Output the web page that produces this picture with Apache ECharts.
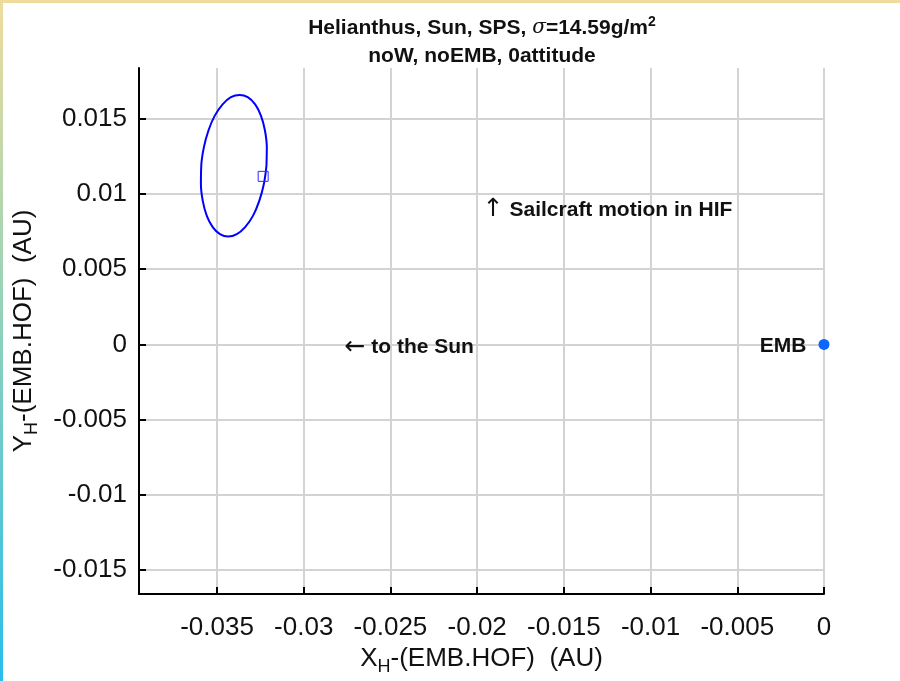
<!DOCTYPE html>
<html>
<head>
<meta charset="utf-8">
<script src="https://cdn.jsdelivr.net/npm/echarts@6/dist/echarts.min.js"></script>
<style>
html,body{margin:0;padding:0;background:#fff;}
#chart{width:900px;height:681px;}
</style>
</head>
<body>
<div id="chart"></div>
<script>
// ---- data ----
const xTicks = [-0.035, -0.03, -0.025, -0.02, -0.015, -0.01, -0.005, 0];
const yTicks = [-0.015, -0.01, -0.005, 0, 0.005, 0.01, 0.015];
const xRange = [-0.0395, 0];
const yRange = [-0.01661, 0.01839];

// trajectory (closed loop) in AU
const orbitX = [-0.03215, -0.03213, -0.03224, -0.03247, -0.03280, -0.03323, -0.03370, -0.03420,
                -0.03468, -0.03513, -0.03549, -0.03576, -0.03591, -0.03593, -0.03582, -0.03559,
                -0.03525, -0.03483, -0.03436, -0.03386, -0.03338, -0.03293, -0.03257, -0.03230, -0.03215];
const orbitY = [0.01189, 0.01311, 0.01425, 0.01522, 0.01597, 0.01645, 0.01660, 0.01645,
                0.01597, 0.01522, 0.01425, 0.01311, 0.01189, 0.01067, 0.00953, 0.00855,
                0.00780, 0.00733, 0.00717, 0.00733, 0.00780, 0.00855, 0.00953, 0.01067, 0.01189];

const startX = [-0.03234];
const startY = [0.01118];

const embX = [0];
const embY = [0];
const embLabel = ['EMB'];

const noteX = [-0.02765, -0.01968];
const noteY = [-0.0002, 0.00895];
const noteArrow = ['\u2190', '\u2191'];
const noteText = [' to the Sun', ' Sailcraft motion in HIF'];

const titleLine1 = 'Helianthus, Sun, SPS, ';
const titleSigma = '\u03c3';
const titleLine1b = '=14.59g/m';
const titleSup = '2';
const titleLine2 = 'noW, noEMB, 0attitude';

// ---- chart ----
const FONT = '"Liberation Sans", Arial, Helvetica, sans-serif';
const INK = '#111111';
const chart = echarts.init(document.getElementById('chart'), null, {renderer: 'canvas'});

const fmt = v => (v === 0 ? '0' : String(+v.toFixed(4)));

const option = {
  backgroundColor: '#ffffff',
  animation: false,
  grid: {left: 139, right: 76, top: 68, bottom: 86, containLabel: false},
  xAxis: {
    type: 'value',
    min: xRange[0], max: xRange[1],
    name: '{n|X}{sub|H}{n|-(EMB.HOF)  (AU)}',
    nameLocation: 'middle',
    nameGap: 48,
    nameTextStyle: {
      fontFamily: FONT, color: INK,
      rich: {
        n: {fontSize: 26, fontFamily: FONT, color: INK},
        sub: {fontSize: 18, fontFamily: FONT, color: INK, padding: [16, 0, 0, 0]}
      }
    },
    axisLine: {onZero: false, lineStyle: {color: '#000', width: 2}},
    axisTick: {inside: true, length: 7, lineStyle: {color: '#000', width: 2}, customValues: xTicks},
    axisLabel: {customValues: xTicks, formatter: fmt, fontSize: 26, fontFamily: FONT, color: INK, margin: 21},
    splitLine: {show: true, lineStyle: {color: '#d3d3d3', width: 2}}
  },
  yAxis: {
    type: 'value',
    min: yRange[0], max: yRange[1],
    name: '{n|Y}{sub|H}{n|-(EMB.HOF)  (AU)}',
    nameLocation: 'middle',
    nameGap: 98,
    nameTextStyle: {
      fontFamily: FONT, color: INK,
      rich: {
        n: {fontSize: 26, fontFamily: FONT, color: INK},
        sub: {fontSize: 18, fontFamily: FONT, color: INK, padding: [16, 0, 0, 0]}
      }
    },
    axisLine: {onZero: false, lineStyle: {color: '#000', width: 2}},
    axisTick: {inside: true, length: 7, lineStyle: {color: '#000', width: 2}, customValues: yTicks},
    axisLabel: {customValues: yTicks, formatter: fmt, fontSize: 26, fontFamily: FONT, color: INK, margin: 12},
    splitLine: {show: true, lineStyle: {color: '#d3d3d3', width: 2}}
  },
  graphic: [
    {type: 'rect', left: 0, top: 0, shape: {width: 900, height: 3}, style: {fill: '#efdc9c'}, z: 100},
    {type: 'rect', left: 0, top: 0, shape: {width: 3, height: 681},
      style: {fill: new echarts.graphic.LinearGradient(0, 0, 0, 1, [
        {offset: 0, color: '#efdc9c'}, {offset: 0.45, color: '#95d2b8'}, {offset: 1, color: '#28bdec'}])}, z: 100},
    {type: 'text', x: 482, y: 28, z: 50,
      style: {
        text: '{b|' + titleLine1 + '}{s|' + titleSigma + '}{b|' + titleLine1b + '}{sup|' + titleSup + '}',
        align: 'center', verticalAlign: 'middle',
        rich: {
          b: {fontSize: 21, fontWeight: 'bold', fontFamily: FONT, fill: INK, color: INK},
          s: {fontSize: 20, fontStyle: 'italic', fontFamily: '"DejaVu Serif", serif', fill: INK, color: INK},
          sup: {fontSize: 14, fontWeight: 'bold', fontFamily: FONT, fill: INK, color: INK, padding: [0, 0, 12, 0]}
        }
      }},
    {type: 'text', x: 482, y: 56, z: 50,
      style: {text: titleLine2, align: 'center', verticalAlign: 'middle',
        fontSize: 21, fontWeight: 'bold', fontFamily: FONT, fill: INK}}
  ],
  series: [
    {
      type: 'line',
      data: orbitX.map((x, i) => [x, orbitY[i]]),
      smooth: 0.4,
      showSymbol: false,
      lineStyle: {color: '#0000ff', width: 2},
      z: 5
    },
    {
      type: 'scatter',
      data: startX.map((x, i) => [x, startY[i]]),
      symbol: 'rect', symbolSize: 10,
      itemStyle: {color: 'rgba(0,0,0,0)', borderColor: '#2b2bff', borderWidth: 1, opacity: 1},
      z: 6
    },
    {
      type: 'scatter',
      data: embX.map((x, i) => ({value: [x, embY[i]], name: embLabel[i]})),
      symbol: 'circle', symbolSize: 11,
      itemStyle: {color: '#0a66ff', opacity: 1},
      label: {show: true, position: 'left', distance: 12, formatter: '{b}', offset: [0, 2],
        fontSize: 21, fontWeight: 'bold', fontFamily: FONT, color: INK},
      clip: false,
      z: 7
    },
    {
      type: 'scatter',
      data: noteX.map((x, i) => ({value: [x, noteY[i]], name: noteText[i],
        label: {formatter: '{a|' + noteArrow[i] + '}{t|' + noteText[i] + '}'}})),
      symbolSize: 0,
      itemStyle: {opacity: 1},
      label: {show: true, position: 'right', distance: 0,
        rich: {
          a: {fontSize: 25, fontFamily: '"DejaVu Sans", sans-serif', color: INK},
          t: {fontSize: 21, fontWeight: 'bold', fontFamily: FONT, color: INK}
        }},
      z: 8
    }
  ]
};
chart.setOption(option);
</script>
</body>
</html>
